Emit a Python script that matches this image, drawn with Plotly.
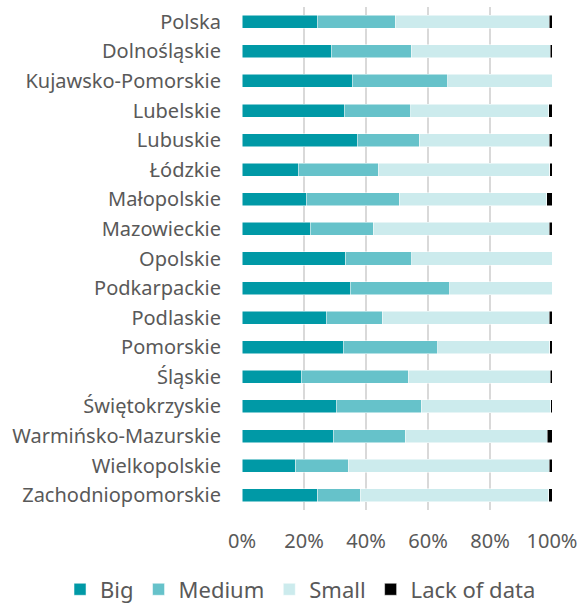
import plotly.graph_objects as go

regions = ["Polska", "Dolnośląskie", "Kujawsko-Pomorskie", "Lubelskie", "Lubuskie",
           "Łódzkie", "Małopolskie", "Mazowieckie", "Opolskie", "Podkarpackie",
           "Podlaskie", "Pomorskie", "Śląskie", "Świętokrzyskie",
           "Warmińsko-Mazurskie", "Wielkopolskie", "Zachodniopomorskie"]

big = [24.3, 28.8, 35.6, 33.0, 37.1, 18.1, 20.7, 22.0, 33.5, 34.9, 27.1, 32.6, 19.1, 30.4, 29.4, 17.4, 24.5]
medium = [25.1, 25.8, 30.7, 21.5, 20.1, 25.8, 30.0, 20.3, 21.3, 32.1, 18.1, 30.5, 34.5, 27.4, 23.2, 16.9, 13.6]
small = [49.7, 44.8, 33.7, 44.4, 41.9, 55.3, 47.6, 56.8, 45.2, 33.0, 53.9, 36.1, 45.9, 41.8, 45.9, 64.8, 60.8]
lack = [0.9, 0.6, 0.0, 1.1, 0.9, 0.8, 1.7, 0.9, 0.0, 0.0, 0.9, 0.8, 0.5, 0.4, 1.5, 0.9, 1.1]

series = [("Big", big, "#0099A6"), ("Medium", medium, "#66C2CA"),
          ("Small", small, "#CCEBED"), ("Lack of data", lack, "#000000")]

x_ticks = [0, 20, 40, 60, 80, 100]
x_tick_labels = ["0%", "20%", "40%", "60%", "80%", "100%"]

fig = go.Figure()
for name, vals, color in series:
    fig.add_trace(go.Bar(
        y=regions, x=vals, name=name, orientation="h",
        marker=dict(color=color, line=dict(color="white", width=0.5)),
    ))

fig.update_layout(
    width=581, height=605,
    margin=dict(l=242, r=29, t=7, b=95, autoexpand=False),
    barmode="stack", bargap=0.56,
    plot_bgcolor="white", paper_bgcolor="white",
    font=dict(family="Noto Sans", color="#595959", size=20),
    showlegend=True,
    legend=dict(orientation="h", x=-0.587, xanchor="left", y=-0.158, yanchor="middle",
                font=dict(size=22, color="#595959"), traceorder="normal",
                itemwidth=30, tracegroupgap=0, bgcolor="rgba(0,0,0,0)"),
    xaxis=dict(range=[0, 100], tickvals=x_ticks, ticktext=x_tick_labels,
               showgrid=True, gridcolor="#D9D9D9", gridwidth=1.5,
               zeroline=False, showline=False, ticks="", ticklabelstandoff=17,
               tickfont=dict(size=20), automargin=False),
    yaxis=dict(categoryorder="array", categoryarray=regions, autorange="reversed",
               showgrid=False, zeroline=False, showline=False, ticks="",
               ticklabelstandoff=20, tickfont=dict(size=20), automargin=False),
)

fig.write_html("out.html", config={"displayModeBar": False},
               post_script="document.body.style.margin='0';")
